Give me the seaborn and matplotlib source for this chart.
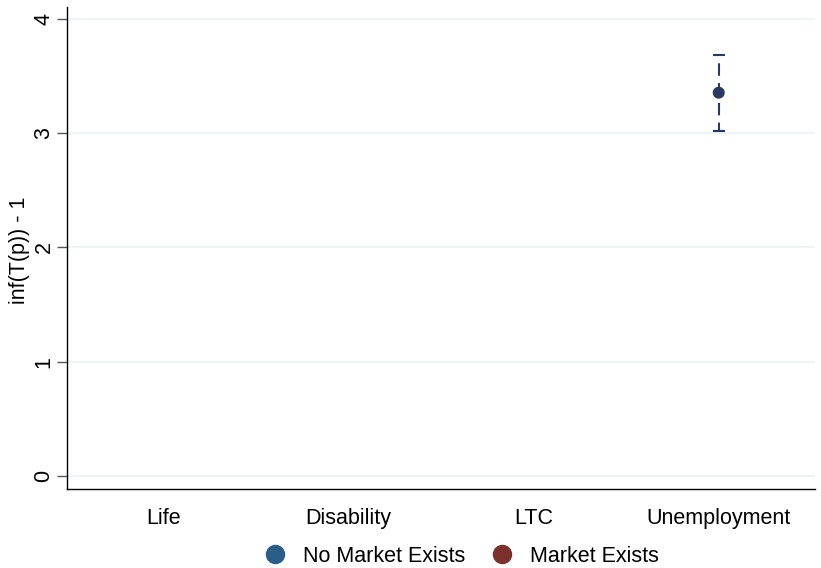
import numpy as np
import pandas as pd
import matplotlib
matplotlib.use("Agg")
import matplotlib.pyplot as plt
import seaborn as sns
from matplotlib.lines import Line2D

# data
categories = ["Life", "Disability", "LTC", "Unemployment"]
estimate = [np.nan, np.nan, np.nan, 3.355]
ci_low = [np.nan, np.nan, np.nan, 3.02]
ci_high = [np.nan, np.nan, np.nan, 3.685]
market = ["No Market Exists", "No Market Exists", "No Market Exists", "No Market Exists"]
y_ticks = [0, 1, 2, 3, 4]

df = pd.DataFrame({
    "category": categories,
    "pos": range(len(categories)),
    "estimate": estimate,
    "lo": ci_low,
    "hi": ci_high,
    "market": market,
})
df_ok = df.dropna()

sns.set_style("white")
plt.rcParams["font.family"] = ["Liberation Sans", "DejaVu Sans"]
plt.rcParams["text.color"] = "black"
plt.rcParams["axes.labelcolor"] = "black"
plt.rcParams["xtick.color"] = "black"
plt.rcParams["ytick.color"] = "black"

fig = plt.figure(figsize=(8.21, 5.68), dpi=100)
ax = fig.add_axes([67 / 821, 1 - 489 / 568, (815 - 67) / 821, (489 - 7) / 568])

point_color = "#283a63"
blue = "#2a5e88"
red = "#7b302e"

# error bars
eb = ax.errorbar(
    df_ok["pos"], df_ok["estimate"],
    yerr=[df_ok["estimate"] - df_ok["lo"], df_ok["hi"] - df_ok["estimate"]],
    fmt="none", ecolor=point_color, elinewidth=1.5, capsize=4.5, capthick=1.5,
    zorder=2,
)
for lc in eb[2]:
    lc.set_linestyle((2, (6, 3.5)))

sns.scatterplot(
    data=df_ok, x="pos", y="estimate",
    color=point_color, s=75, edgecolor="none",
    legend=False, ax=ax, zorder=3,
)

ax.set_xlim(-0.52, 3.52)
ax.set_ylim(-0.114, 4.105)
ax.set_xticks(df["pos"])
ax.set_xticklabels(categories, fontsize=15.5)
ax.set_yticks(y_ticks)
ax.set_yticklabels([str(t) for t in y_ticks], fontsize=15.5, rotation=90, va="center")
ax.tick_params(axis="x", length=0, pad=14)
ax.tick_params(axis="y", length=7, width=1, color="#555555", left=True, pad=2)
ax.set_xlabel("")
ax.set_ylabel("inf(T(p)) - 1", fontsize=15.5)
ax.yaxis.set_label_coords(-0.049, 0.495)

ax.grid(axis="y", color="#eaf2f3", linewidth=1.2)
ax.set_axisbelow(True)
for side in ["top", "right"]:
    ax.spines[side].set_visible(False)
ax.spines["left"].set_color("black")
ax.spines["bottom"].set_color("black")
ax.spines["left"].set_linewidth(1)
ax.spines["bottom"].set_linewidth(1)

handles = [
    Line2D([], [], marker="o", linestyle="none", markersize=13, color=blue, label="No Market Exists"),
    Line2D([], [], marker="o", linestyle="none", markersize=13, color=red, label="Market Exists"),
]
fig.legend(handles=handles, loc="center", bbox_to_anchor=(0.556, 1 - 556 / 568),
           ncol=2, frameon=False, fontsize=15.5, handletextpad=0.3, columnspacing=0.7)

fig.savefig("out.png", dpi=100)
